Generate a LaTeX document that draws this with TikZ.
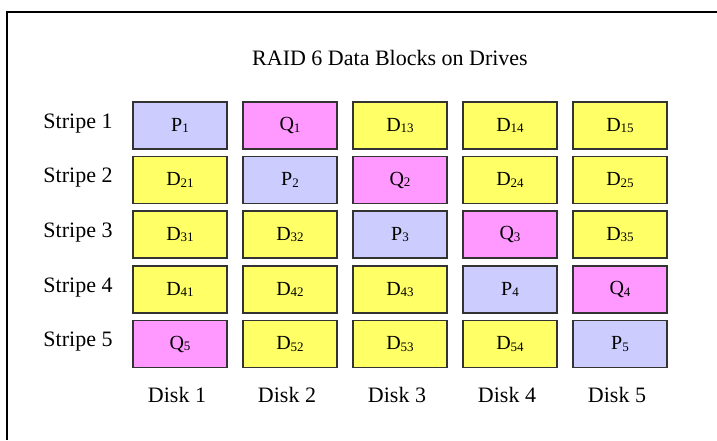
\documentclass[tikz,border=0pt]{standalone}
\usepackage{fontspec}
\setmainfont{Liberation Serif}
\definecolor{pcol}{HTML}{CCCCFF}
\definecolor{qcol}{HTML}{FF99FF}
\definecolor{dcol}{HTML}{FFFF66}
\definecolor{edge}{HTML}{333333}
\newcommand{\subdig}[1]{\raisebox{-1.5pt}{\fontsize{13}{13}\selectfont #1}}
\begin{document}
\begin{tikzpicture}[x=1pt,y=-1pt,
  blk/.style={draw=edge,line width=1.4pt,minimum width=94pt,minimum height=47pt,inner sep=0pt,font=\fontsize{20}{22}\selectfont},
  pblk/.style={blk,fill=pcol},
  qblk/.style={blk,fill=qcol},
  dblk/.style={blk,fill=dcol},
  lbl/.style={font=\fontsize{22}{26}\selectfont,inner sep=0pt}]
\useasboundingbox (0,0) rectangle (717,440);
\draw[line width=1.5pt] (7,440) -- (7,12) -- (717,12);
\node[lbl] (title) at (390,58) {RAID 6 Data Blocks on Drives};
% rows
\foreach \r/\y in {1/125.5,2/180,3/234.5,4/289.5,5/344}{
  \node[lbl] (s\r) at (78,\y-2) {Stripe \r};
}
\foreach \c/\x in {1/180,2/290,3/400,4/510,5/620}{
  \node[lbl] (k\c) at (\x-3,395) {Disk \c};
}
% row 1
\node[pblk] (b11) at (180,125.5) {P\subdig{1}};
\node[qblk] (b12) at (290,125.5) {Q\subdig{1}};
\node[dblk] (b13) at (400,125.5) {D\subdig{13}};
\node[dblk] (b14) at (510,125.5) {D\subdig{14}};
\node[dblk] (b15) at (620,125.5) {D\subdig{15}};
% row 2
\node[dblk] (b21) at (180,180) {D\subdig{21}};
\node[pblk] (b22) at (290,180) {P\subdig{2}};
\node[qblk] (b23) at (400,180) {Q\subdig{2}};
\node[dblk] (b24) at (510,180) {D\subdig{24}};
\node[dblk] (b25) at (620,180) {D\subdig{25}};
% row 3
\node[dblk] (b31) at (180,234.5) {D\subdig{31}};
\node[dblk] (b32) at (290,234.5) {D\subdig{32}};
\node[pblk] (b33) at (400,234.5) {P\subdig{3}};
\node[qblk] (b34) at (510,234.5) {Q\subdig{3}};
\node[dblk] (b35) at (620,234.5) {D\subdig{35}};
% row 4
\node[dblk] (b41) at (180,289.5) {D\subdig{41}};
\node[dblk] (b42) at (290,289.5) {D\subdig{42}};
\node[dblk] (b43) at (400,289.5) {D\subdig{43}};
\node[pblk] (b44) at (510,289.5) {P\subdig{4}};
\node[qblk] (b45) at (620,289.5) {Q\subdig{4}};
% row 5
\node[qblk] (b51) at (180,344) {Q\subdig{5}};
\node[dblk] (b52) at (290,344) {D\subdig{52}};
\node[dblk] (b53) at (400,344) {D\subdig{53}};
\node[dblk] (b54) at (510,344) {D\subdig{54}};
\node[pblk] (b55) at (620,344) {P\subdig{5}};
\end{tikzpicture}
\end{document}
